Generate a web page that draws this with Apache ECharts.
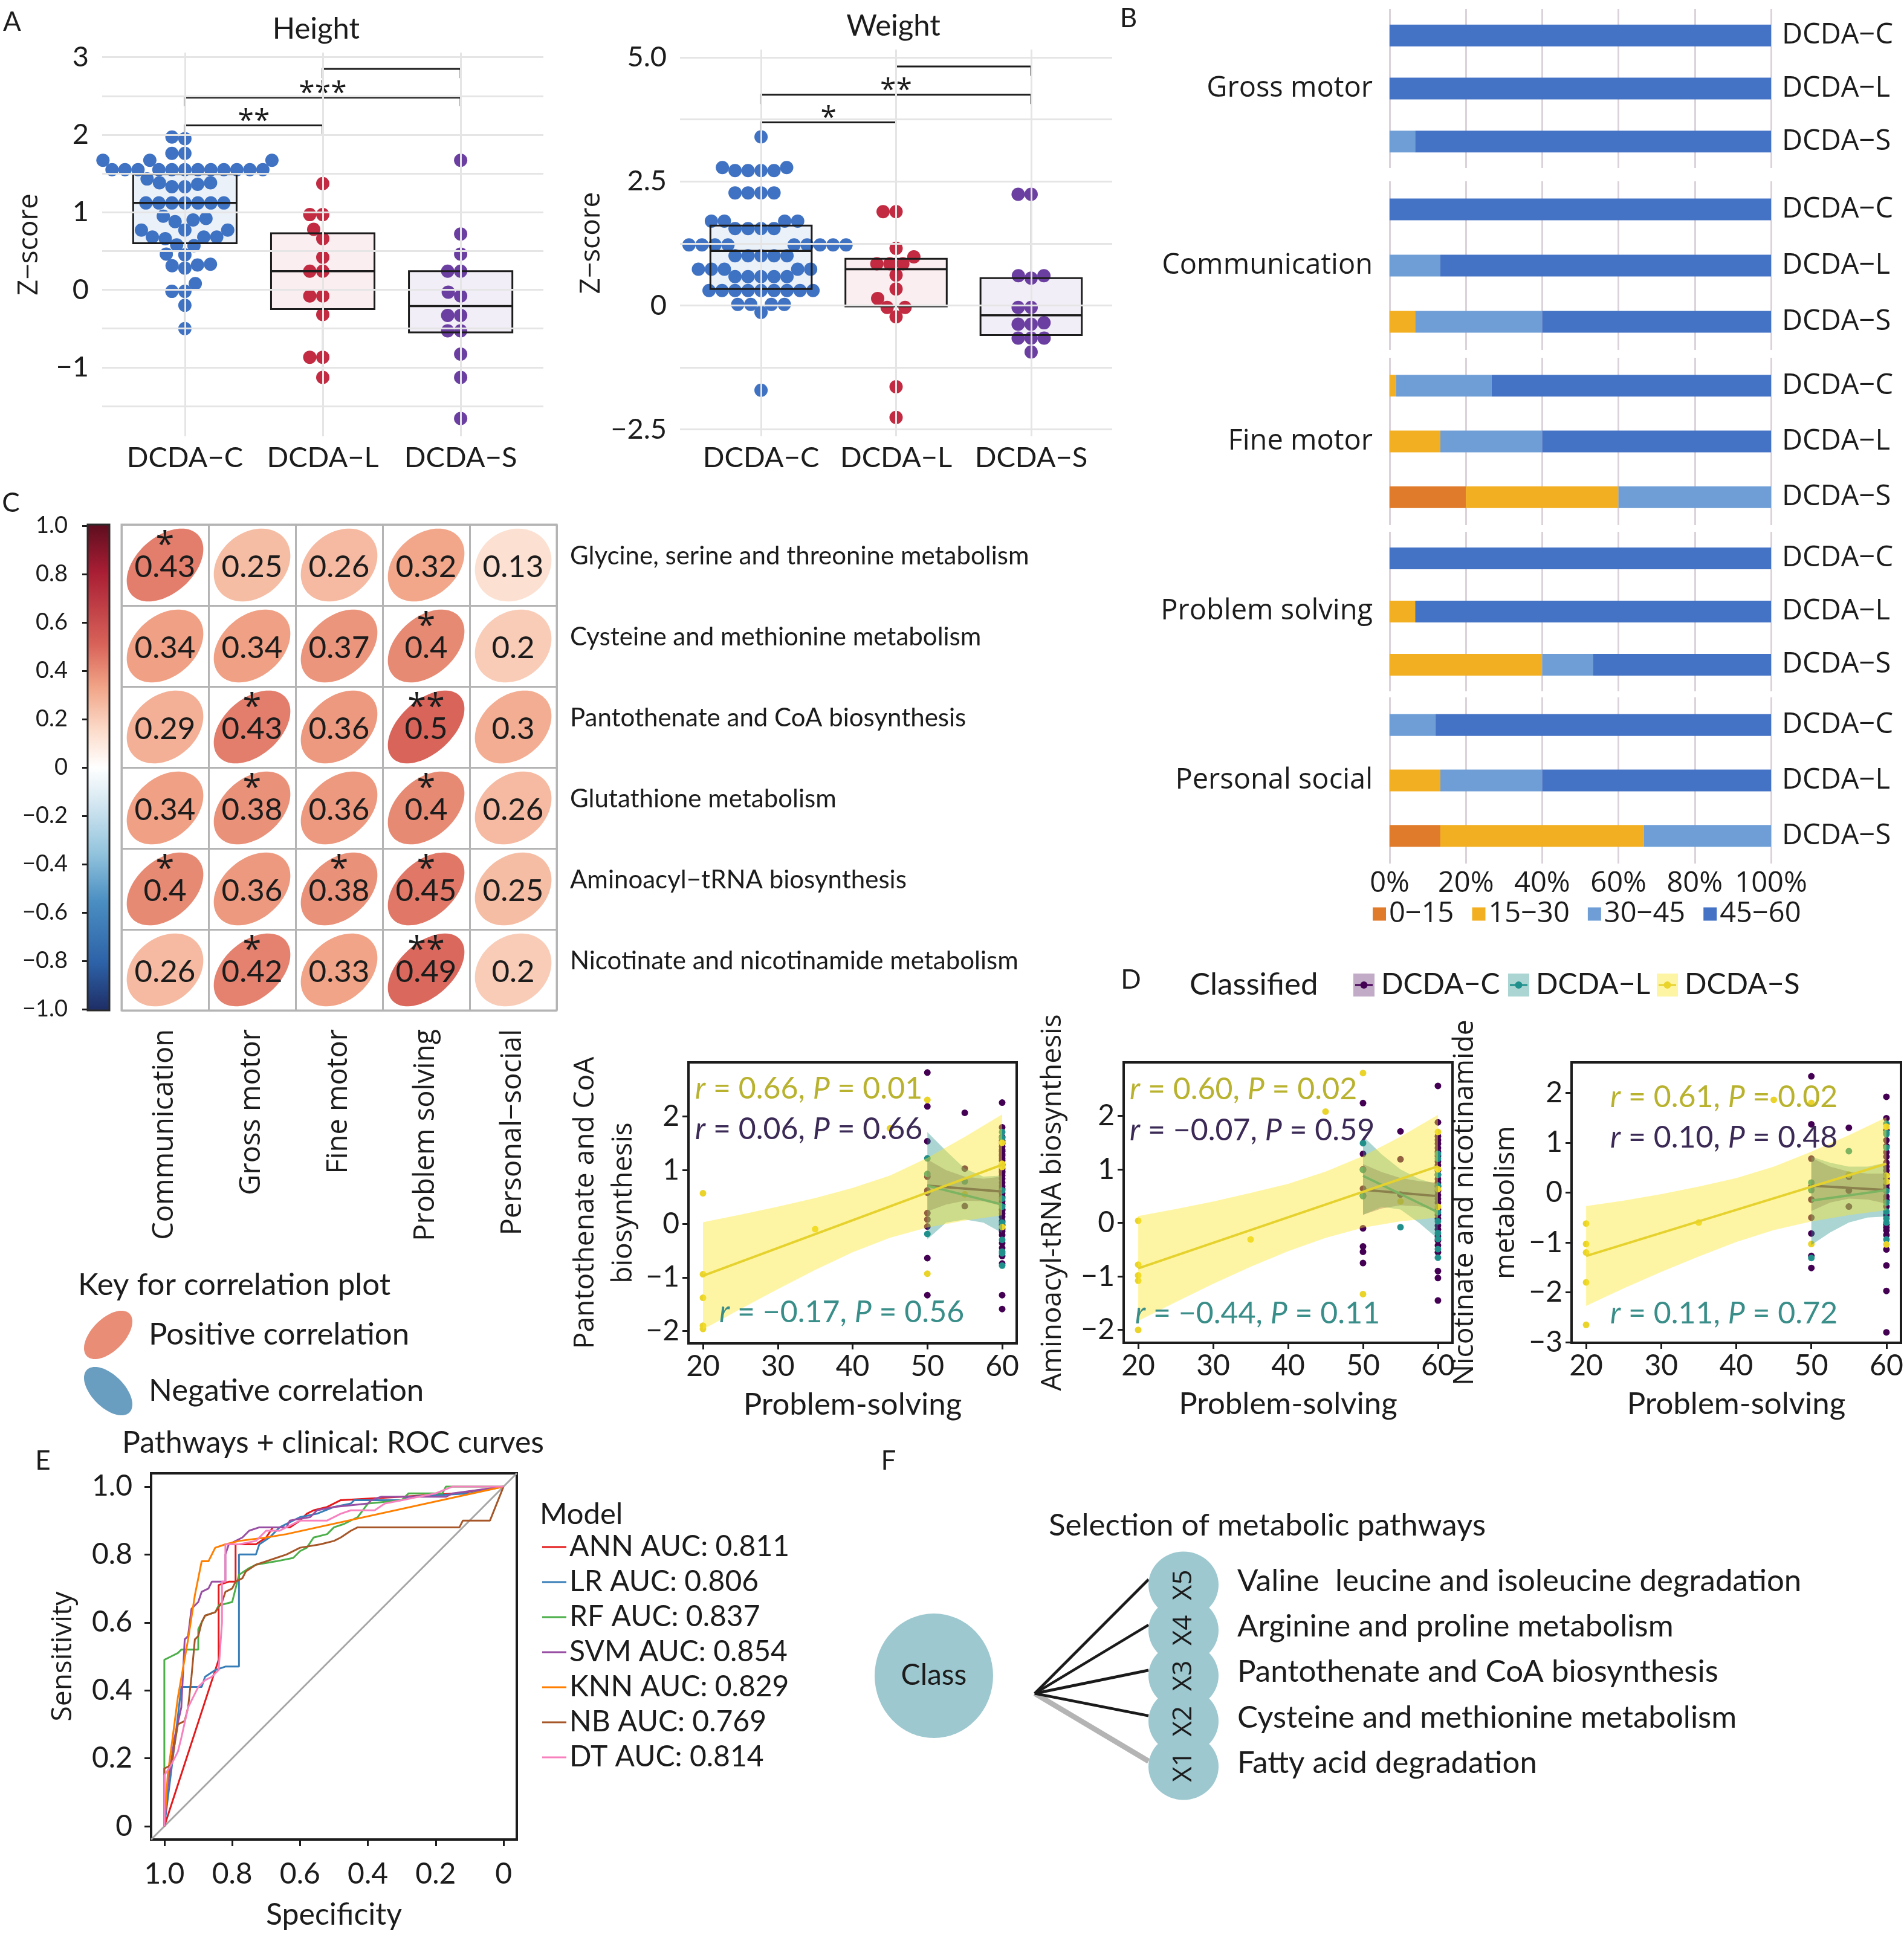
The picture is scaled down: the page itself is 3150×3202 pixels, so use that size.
<!DOCTYPE html>
<html>
<head>
<meta charset="utf-8">
<script src="https://cdn.jsdelivr.net/npm/echarts@6/dist/echarts.min.js"></script>
<style>
html,body{margin:0;padding:0;background:#ffffff;}
#chart{width:3150px;height:3202px;}
</style>
</head>
<body>
<div id="chart"></div>
<script>
// ======================= DATA =======================
const groups = ['DCDA−C', 'DCDA−L', 'DCDA−S'];

// ---- Panel A : Z-scores (beeswarm + box) ----
const heightC = [1.97,1.95,1.76,1.76,1.67,1.67,1.67,1.67,1.55,1.55,1.55,1.55,1.55,1.55,1.55,1.55,1.55,1.55,1.55,1.55,
  1.43,1.38,1.38,1.36,1.33,1.33,1.12,1.12,1.12,1.12,1.12,1.12,1.12,0.95,0.92,0.9,0.88,0.77,0.77,0.77,0.68,0.68,0.68,0.66,
  0.58,0.57,0.46,0.45,0.33,0.32,0.31,0.28,0.08,-0.02,-0.02,-0.2,-0.5];
const heightL = [1.37,0.97,0.97,0.78,0.66,0.42,0.24,0.24,-0.08,-0.08,-0.32,-0.87,-0.87,-1.13];
const heightS = [1.67,0.72,0.46,0.24,0.24,-0.03,-0.08,-0.33,-0.33,-0.53,-0.53,-0.83,-1.13,-1.66];
const heightBox = [[-0.5,0.6,1.12,1.49,1.95],[-1.13,-0.25,0.24,0.73,1.36],[-1.66,-0.55,-0.21,0.24,0.72]];
const heightSig = [[1,2,2.12,2.01,'**'],[1,3,2.48,2.37,'***'],[2,3,2.85,2.73,'']];
const heightTicks = [-1,0,1,2,3];
const heightTickLabels = ['−1','0','1','2','3'];
const heightGridVals = [-1.5,-1,-0.5,0,0.5,1,1.5,2,2.5,3];

const weightC = [3.4,2.78,2.78,2.72,2.72,2.72,2.72,2.27,2.27,2.27,2.27,1.7,1.7,1.7,1.7,1.55,1.55,1.55,1.55,
  1.22,1.22,1.22,1.22,1.22,1.22,1.22,1.22,1.22,1.22,1.0,1.0,1.0,1.0,1.0,0.73,0.73,0.73,0.73,0.73,
  0.58,0.58,0.58,0.58,0.58,0.3,0.3,0.3,0.3,0.3,0.3,0.3,0.3,0.3,0.02,0.02,0.02,0.02,-0.14,-1.71];
const weightL = [1.89,1.89,1.15,0.98,0.84,0.84,0.84,0.61,0.33,0.14,-0.04,-0.04,-0.23,-1.64,-2.26];
const weightS = [2.24,2.24,0.6,0.55,0.6,-0.04,-0.04,-0.35,-0.38,-0.38,-0.66,-0.66,-0.66,-0.94];
const weightBox = [[-0.14,0.33,1.1,1.61,3.4],[-0.23,-0.02,0.73,0.94,1.89],[-0.94,-0.6,-0.2,0.55,2.24]];
const weightSig = [[1,2,3.69,3.49,'*'],[1,3,4.25,4.06,'**'],[2,3,4.82,4.63,'']];
const weightTicks = [-2.5,0,2.5,5];
const weightTickLabels = ['−2.5','0','2.5','5.0'];
const weightGridVals = [-2.5,-1.25,0,1.25,2.5,3.75,5];

// ---- Panel B : % of children per score band ----
const domainsB = ['Gross motor','Communication','Fine motor','Problem solving','Personal social'];
const scoreBands = ['0−15','15−30','30−45','45−60'];
// rows = domain, cols = [C, L, S]
const pct0_15  = [[0,0,0],[0,0,0],[0,0,20],[0,0,0],[0,0,13.3]];
const pct15_30 = [[0,0,0],[0,0,6.7],[1.7,13.3,40],[0,6.7,40],[0,13.3,53.4]];
const pct30_45 = [[0,0,6.7],[0,13.3,33.3],[25,26.7,40],[0,0,13.3],[12,26.7,33.3]];
const pct45_60 = [[100,100,93.3],[100,86.7,60],[73.3,60,0],[100,93.3,46.7],[88,60,0]];

// ---- Panel C : correlation matrix ----
const pathways = ['Glycine, serine and threonine metabolism','Cysteine and methionine metabolism',
  'Pantothenate and CoA biosynthesis','Glutathione metabolism','Aminoacyl−tRNA biosynthesis',
  'Nicotinate and nicotinamide metabolism'];
const domainsC = ['Communication','Gross motor','Fine motor','Problem solving','Personal−social'];
const corr = [[0.43,0.25,0.26,0.32,0.13],[0.34,0.34,0.37,0.4,0.2],[0.29,0.43,0.36,0.5,0.3],
  [0.34,0.38,0.36,0.4,0.26],[0.4,0.36,0.38,0.45,0.25],[0.26,0.42,0.33,0.49,0.2]];
const corrSig = [['*','','','',''],['','','','*',''],['','*','','**',''],['','*','','*',''],['*','','*','*',''],['','*','','**','']];
const cbTicks = [-1,-0.8,-0.6,-0.4,-0.2,0,0.2,0.4,0.6,0.8,1];
const cbLabels = ['−1.0','−0.8','−0.6','−0.4','−0.2','0','0.2','0.4','0.6','0.8','1.0'];

// ---- Panel D : scatter + regression ----
const dXTicks = [20,30,40,50,60];
const d1C = [[50,2.82],[50,2.19],[50,1.54],[50,0.88],[50,0.62],[50,0.58],[50,0.2],[50,0.08],[50,-0.05],[50,-0.64],[50,-1.33],
  [55,2.07],[55,1.03],[55,0.33],[60,2.26],[60,1.8],[60,1.62],[60,1.55],[60,1.5],[60,1.44],[60,1.38],[60,1.35],[60,1.3],
  [60,1.27],[60,1.22],[60,1.18],[60,1.1],[60,1.02],[60,0.98],[60,0.95],[60,0.9],[60,0.84],[60,0.77],[60,0.7],[60,0.65],
  [60,0.57],[60,0.5],[60,0.42],[60,0.36],[60,0.27],[60,0.25],[60,0.19],[60,0.13],[60,0.05],[60,-0.02],[60,-0.1],[60,-0.14],
  [60,-0.21],[60,-0.36],[60,-0.45],[60,-0.6],[60,-0.74],[60,-1.33],[60,-1.59]];
const d1L = [[50,1.22],[50,0.93],[50,-0.19],[55,0.79],[60,1.71],[60,1.6],[60,0.62],[60,0.47],[60,0.32],[60,0.02],[60,-0.3],[60,-0.52],[60,-0.55],[60,-0.78]];
const d1S = [[20,0.57],[20,-0.94],[20,-1.38],[20,-1.9],[20,-1.96],[35,-0.1],[45,1.78],[50,2.31],[50,-0.93],[55,0.55],[60,1.51],[60,1.12],[60,1.06],[60,-0.06]];
const d1Lines = [[[50,0.71],[60,0.6]],[[50,0.71],[60,0.36]],[[20,-0.97],[60,1.1]]];
const d1Bands = [
  [[50,0.23,1.2],[52.5,0.36,1.0],[55,0.43,0.88],[57.5,0.42,0.84],[60,0.33,0.88]],
  [[50,-0.29,1.71],[52.5,0.02,1.36],[55,0.08,1.03],[57.5,0.02,0.88],[60,-0.17,0.9]],
  [[20,-1.97,0.03],[25,-1.59,0.17],[30,-1.22,0.32],[35,-0.86,0.48],[40,-0.53,0.67],[45,-0.26,0.9],[50,-0.07,1.23],[55,0.06,1.62],[60,0.16,2.04]]];

const d2C = [[50,2.24],[50,1.29],[50,1.0],[50,0.64],[50,0.51],[50,-0.1],[50,-0.44],[50,-0.54],[50,-0.75],[55,1.71],[55,1.19],[55,0.53],
  [60,2.56],[60,1.88],[60,1.62],[60,1.55],[60,1.48],[60,1.4],[60,1.33],[60,1.25],[60,1.15],[60,1.08],[60,0.98],[60,0.9],[60,0.82],
  [60,0.75],[60,0.68],[60,0.6],[60,0.52],[60,0.45],[60,0.38],[60,0.25],[60,0.15],[60,0.08],[60,-0.05],[60,-0.12],[60,-0.25],
  [60,-0.33],[60,-0.42],[60,-0.55],[60,-0.9],[60,-1.03],[60,-1.45]];
const d2L = [[50,1.49],[50,0.99],[50,0.5],[55,-0.08],[60,1.29],[60,1.2],[60,0.9],[60,0.7],[60,0.2],[60,0.03],[60,-0.19],[60,-0.3],[60,-0.49],[60,-0.65]];
const d2S = [[20,0.04],[20,-0.78],[20,-0.98],[20,-1.08],[20,-2.0],[35,-0.31],[45,2.08],[50,2.8],[50,-1.33],[55,0.4],[60,1.7],[60,1.0],[60,0.63],[60,0.3]];
const d2Lines = [[[50,0.62],[60,0.5]],[[50,0.88],[60,0.2]],[[20,-0.85],[60,1.06]]];
const d2Bands = [
  [[50,0.15,1.1],[52.5,0.27,0.95],[55,0.33,0.84],[57.5,0.31,0.78],[60,0.25,0.75]],
  [[50,0.15,1.62],[52.5,0.3,1.28],[55,0.25,1.0],[57.5,0.0,0.82],[60,-0.3,0.72]],
  [[20,-1.83,0.13],[25,-1.48,0.26],[30,-1.14,0.4],[35,-0.82,0.56],[40,-0.53,0.73],[45,-0.28,0.96],[50,-0.09,1.25],[55,0.03,1.61],[60,0.1,2.02]]];

const d3C = [[50,2.33],[50,1.37],[50,0.68],[50,0.12],[50,-0.14],[50,-0.5],[50,-0.82],[50,-1.27],[50,-1.51],[55,1.3],[55,0.32],[55,0.04],[55,-0.28],
  [60,1.92],[60,1.49],[60,1.25],[60,1.05],[60,0.93],[60,0.81],[60,0.72],[60,0.6],[60,0.52],[60,0.44],[60,0.36],[60,0.28],[60,0.15],
  [60,0.08],[60,-0.08],[60,-0.15],[60,-0.28],[60,-0.45],[60,-0.64],[60,-0.7],[60,-0.76],[60,-0.85],[60,-1.14],[60,-1.46],[60,-1.97],[60,-2.8]];
const d3L = [[50,0.2],[50,0.05],[50,-1.31],[55,0.83],[60,1.38],[60,1.2],[60,1.17],[60,0.9],[60,0.03],[60,-0.2],[60,-0.38],[60,-0.52],[60,-0.6],[60,-0.94]];
const d3S = [[20,-0.62],[20,-1.03],[20,-1.2],[20,-1.8],[20,-2.65],[35,-0.6],[45,1.86],[50,1.8],[50,-1.03],[55,0.36],[60,1.32],[60,0.34],[60,0.22],[60,-1.04]];
const d3Lines = [[[50,0.14],[60,0.05]],[[50,-0.16],[60,0.05]],[[20,-1.27],[60,0.58]]];
const d3Bands = [
  [[50,-0.37,0.7],[52.5,-0.2,0.52],[55,-0.12,0.42],[57.5,-0.14,0.38],[60,-0.22,0.38]],
  [[50,-1.05,0.72],[52.5,-0.8,0.6],[55,-0.6,0.52],[57.5,-0.5,0.52],[60,-0.48,0.6]],
  [[20,-2.27,-0.27],[25,-1.92,-0.16],[30,-1.59,-0.03],[35,-1.28,0.12],[40,-0.99,0.29],[45,-0.75,0.52],[50,-0.58,0.82],[55,-0.45,1.15],[60,-0.35,1.51]]];
// r and P per plot, order [S, C, L]
const statR = [[0.66,0.06,-0.17],[0.60,-0.07,-0.44],[0.61,0.10,0.11]];
const statP = [[0.01,0.66,0.56],[0.02,0.59,0.11],[0.02,0.48,0.72]];

// ---- Panel E : ROC curves [specificity, sensitivity] ----
const rocModels = ['ANN','LR','RF','SVM','KNN','NB','DT'];
const rocAUC = [0.811,0.806,0.837,0.854,0.829,0.769,0.814];
const rocANN = [[1,0],[0.84,0.49],[0.84,0.71],[0.81,0.72],[0.79,0.72],[0.79,0.83],[0.73,0.83],[0.7,0.85],[0.68,0.88],[0.63,0.88],[0.6,0.9],[0.58,0.92],[0.56,0.93],[0.52,0.94],[0.48,0.96],[0.3,0.97],[0.14,0.98],[0,1]];
const rocLR = [[1,0],[0.97,0.24],[0.95,0.41],[0.89,0.41],[0.88,0.44],[0.85,0.46],[0.82,0.47],[0.78,0.47],[0.78,0.8],[0.73,0.8],[0.72,0.83],[0.69,0.85],[0.66,0.88],[0.62,0.9],[0.6,0.91],[0.55,0.92],[0.5,0.94],[0.45,0.95],[0.44,0.96],[0.3,0.96],[0.28,0.97],[0.1,0.98],[0,1]];
const rocRF = [[1,0],[1,0.49],[0.98,0.5],[0.96,0.51],[0.95,0.52],[0.9,0.52],[0.9,0.58],[0.88,0.62],[0.85,0.63],[0.84,0.65],[0.8,0.66],[0.79,0.7],[0.78,0.74],[0.75,0.76],[0.73,0.77],[0.67,0.78],[0.62,0.79],[0.6,0.81],[0.58,0.82],[0.56,0.85],[0.52,0.86],[0.5,0.88],[0.47,0.89],[0.43,0.91],[0.4,0.95],[0.3,0.96],[0.28,0.98],[0.18,0.98],[0.17,1.0],[0,1]];
const rocSVM = [[1,0],[0.99,0.12],[0.97,0.26],[0.95,0.35],[0.94,0.55],[0.93,0.56],[0.92,0.64],[0.9,0.66],[0.89,0.69],[0.87,0.7],[0.86,0.72],[0.82,0.72],[0.82,0.8],[0.81,0.83],[0.77,0.85],[0.75,0.87],[0.72,0.88],[0.64,0.88],[0.63,0.9],[0.57,0.91],[0.55,0.93],[0.5,0.94],[0.4,0.95],[0.39,0.96],[0.36,0.97],[0.17,0.97],[0.15,0.98],[0,1]];
const rocKNN = [[1,0],[0.99,0.15],[0.96,0.38],[0.93,0.55],[0.91,0.68],[0.9,0.73],[0.89,0.78],[0.87,0.78],[0.85,0.82],[0.82,0.83],[0.78,0.84],[0.7,0.85],[0.64,0.86],[0,1]];
const rocNB = [[1,0],[1,0.17],[0.98,0.18],[0.96,0.3],[0.94,0.31],[0.93,0.35],[0.92,0.44],[0.91,0.55],[0.9,0.56],[0.89,0.6],[0.88,0.62],[0.85,0.63],[0.83,0.66],[0.82,0.69],[0.8,0.7],[0.79,0.72],[0.77,0.73],[0.76,0.75],[0.73,0.77],[0.7,0.78],[0.67,0.79],[0.64,0.8],[0.6,0.82],[0.54,0.83],[0.5,0.84],[0.48,0.85],[0.45,0.87],[0.43,0.88],[0.13,0.88],[0.12,0.9],[0.04,0.9],[0,1]];
const rocDT = [[1,0],[1,0.15],[0.98,0.18],[0.96,0.22],[0.95,0.26],[0.93,0.35],[0.9,0.41],[0.88,0.43],[0.86,0.44],[0.84,0.46],[0.83,0.6],[0.83,0.72],[0.82,0.72],[0.82,0.83],[0.78,0.83],[0.73,0.84],[0.7,0.87],[0.66,0.87],[0.62,0.89],[0.6,0.9],[0.52,0.9],[0.48,0.92],[0.45,0.93],[0.38,0.93],[0.35,0.95],[0.3,0.96],[0.25,0.97],[0.2,0.98],[0.15,1.0],[0,1]];
const rocTicks = [0,0.2,0.4,0.6,0.8,1];
const rocTickLabels = ['0','0.2','0.4','0.6','0.8','1.0'];

// ---- Panel F : selected pathways ----
const featureIds = ['X1','X2','X3','X4','X5'];
const featureNames = ['Fatty acid degradation','Cysteine and methionine metabolism','Pantothenate and CoA biosynthesis',
  'Arginine and proline metabolism','Valine  leucine and isoleucine degradation'];
const featureWeight = [-1.9,1,1.05,0.95,1];

// ======================= STYLE / LAYOUT =======================
const INK = '#1c1c1c';
const FC = 'Lato';
const FS = 'Open Sans';
const colA = ['#3F72C2','#C22B41','#6B3FA1'];
const fillA = ['rgba(63,114,194,0.10)','rgba(194,43,65,0.08)','rgba(107,63,161,0.09)'];
const colB = ['#E07B2B','#F2AF22','#6F9ED6','#4472C4'];
const dCol = ['#440154','#21908C','#EAD42A'];
const dLine = ['#440154','#21908C','#E6D22E'];
const dBand = ['rgba(68,1,84,0.33)','rgba(33,144,140,0.38)','rgba(253,231,37,0.42)'];
const dText = ['#3B2A55','#3A8E89','#B8B22E'];
const rocColors = ['#E41A1C','#377EB8','#4DAF4A','#984EA3','#FF7F00','#A65628','#F781BF'];
const corrStops = [[-1,'#1E2C64'],[-0.8,'#2D62A8'],[-0.55,'#4A8EC2'],[-0.35,'#93C4DD'],[-0.15,'#D3E6F1'],[0,'#FFFFFF'],
  [0.15,'#FCDCCB'],[0.33,'#F1A487'],[0.5,'#D9645A'],[0.8,'#A91E34'],[1,'#5C0D1F']];

function hex2rgb(h){ return [parseInt(h.slice(1,3),16),parseInt(h.slice(3,5),16),parseInt(h.slice(5,7),16)]; }
function colorAt(v){
  for (let i=1;i<corrStops.length;i++){
    if (v <= corrStops[i][0]){
      const a=corrStops[i-1], b=corrStops[i]; const t=(v-a[0])/(b[0]-a[0]);
      const ca=hex2rgb(a[1]), cb=hex2rgb(b[1]);
      return 'rgb('+ca.map((c,j)=>Math.round(c+(cb[j]-c)*t)).join(',')+')';
    }
  }
  return corrStops[corrStops.length-1][1];
}
function ellipsePts(cx, cy, hx, hy, r){
  const a=Math.sqrt(1+Math.abs(r)), b=Math.sqrt(1-Math.abs(r)), s=r>=0?1:-1, k=Math.SQRT1_2, pts=[];
  for (let i=0;i<90;i++){ const t=i/90*2*Math.PI; const u=a*Math.cos(t), v=b*Math.sin(t);
    pts.push([cx+(u-v)*k*hx, cy-s*(u+v)*k*hy]); }
  return pts;
}
function lab(ticks, labels){ return function(v){ const i=ticks.findIndex(t=>Math.abs(t-v)<1e-6); return i<0?'':labels[i]; }; }
function T(text, x, y, size, o){
  o = o || {};
  const st = {text:text, fontSize:size, fontFamily:o.font||FC, fill:o.color||INK,
    align:o.align||'left', verticalAlign:o.va||'middle', textAlign:o.align||'left', textVerticalAlign:o.va||'middle'};
  if (o.rich) st.rich = o.rich;
  return {type:'text', x:x, y:y, rotation:o.rot||0, silent:true, z:50, style:st};
}

const grids=[], xAxes=[], yAxes=[], series=[], G=[];
function addGrid(r){ grids.push(Object.assign({outerBoundsMode:'none', containLabel:false}, r)); return grids.length-1; }
const noLine = {show:false, onZero:false};

// ======================= PANEL A =======================
function boxRender(params, api){
  const x=api.value(0);
  const pMin=api.coord([x,api.value(1)]), pQ1=api.coord([x,api.value(2)]), pMd=api.coord([x,api.value(3)]),
        pQ3=api.coord([x,api.value(4)]), pMax=api.coord([x,api.value(5)]);
  const w=api.size([0.75,0])[0];
  const L=(a,b,lw)=>({type:'line', shape:{x1:a[0],y1:a[1],x2:b[0],y2:b[1]}, style:{stroke:INK, lineWidth:lw}});
  return {type:'group', children:[
    L(pMax,pQ3,2.2), L(pQ1,pMin,2.2),
    {type:'rect', shape:{x:pQ3[0]-w/2, y:pQ3[1], width:w, height:pQ1[1]-pQ3[1]}, style:{fill:fillA[params.dataIndex], stroke:INK, lineWidth:3}},
    {type:'line', shape:{x1:pMd[0]-w/2, y1:pMd[1], x2:pMd[0]+w/2, y2:pMd[1]}, style:{stroke:INK, lineWidth:3.5}}
  ]};
}
function sigRenderer(sigArr){
  return function(params, api){
    const s=sigArr[params.dataIndex];
    const p1=api.coord([s[0],s[3]]), p2=api.coord([s[0],s[2]]), p3=api.coord([s[1],s[2]]), p4=api.coord([s[1],s[3]]);
    return {type:'group', children:[
      {type:'polyline', shape:{points:[p1,p2,p3,p4]}, style:{stroke:INK, lineWidth:3, fill:null}},
      {type:'text', x:(p2[0]+p3[0])/2, y:p2[1]-6, style:{text:s[4], fontSize:48, fontFamily:FS, fill:INK,
        align:'center', verticalAlign:'middle', textAlign:'center', textVerticalAlign:'middle'}}
    ]};
  };
}
const panelsA = [
  {title:'Height', vals:[heightC,heightL,heightS], box:heightBox, sig:heightSig, ticks:heightTicks, labels:heightTickLabels,
   lines:heightGridVals, min:-1.89, max:3.06, rect:{left:169,top:87,width:730,height:635}, nameGap:97, tx:523, ty:48},
  {title:'Weight', vals:[weightC,weightL,weightS], box:weightBox, sig:weightSig, ticks:weightTicks, labels:weightTickLabels,
   lines:weightGridVals, min:-2.64, max:5.16, rect:{left:1125,top:82,width:715,height:640}, nameGap:123, tx:1478, ty:43}
];
panelsA.forEach((p,k)=>{
  const gi=addGrid(p.rect); p.gi=gi;
  xAxes.push({gridIndex:gi, type:'value', min:0.4, max:3.6, axisLine:noLine, axisTick:{show:false}, splitLine:{show:false},
    axisLabel:{customValues:[1,2,3], formatter:v=>groups[Math.round(v)-1]||'', fontSize:47, fontFamily:FC, color:INK, margin:12}});
  const xi=xAxes.length-1;
  yAxes.push({gridIndex:gi, type:'value', min:p.min, max:p.max, axisLine:noLine, axisTick:{show:false}, splitLine:{show:false},
    axisLabel:{customValues:p.ticks, formatter:lab(p.ticks,p.labels), fontSize:47, fontFamily:FC, color:INK, margin:22},
    name:'Z−score', nameLocation:'middle', nameGap:p.nameGap, nameTextStyle:{fontSize:46, fontFamily:FS, color:INK, lineHeight:46}});
  const yi=yAxes.length-1;
  series.push({type:'line', xAxisIndex:xi, yAxisIndex:yi, data:[[1,p.min]], symbol:'none', lineStyle:{width:0}, z:1, silent:true,
    markLine:{silent:true, symbol:['none','none'], label:{show:false}, lineStyle:{color:'#E5E5E5', width:3, type:'solid'},
      data:p.lines.map(v=>({yAxis:v})).concat([1,2,3].map(v=>({xAxis:v})))}});
  p.vals.forEach((vals,g)=>series.push({id:'sw'+k+'_'+g, name:groups[g], type:'scatter', xAxisIndex:xi, yAxisIndex:yi, data:[],
    symbolSize:22, itemStyle:{color:colA[g], opacity:1}, z:2, silent:true}));
  series.push({type:'custom', xAxisIndex:xi, yAxisIndex:yi, z:3, silent:true, data:p.box.map((b,i)=>[i+1].concat(b)), renderItem:boxRender});
  series.push({type:'custom', xAxisIndex:xi, yAxisIndex:yi, z:4, silent:true, data:p.sig.map(s=>[s[0],s[1],s[2],s[3]]), renderItem:sigRenderer(p.sig)});
  G.push(T(p.title, p.tx, p.ty, 49, {align:'center'}));
});

// ======================= PANEL B =======================
const bRows = [[15,263],[300,279],[592,277],[880,264],[1154,275]];
const pctBands = [pct0_15, pct15_30, pct30_45, pct45_60];
domainsB.forEach((d,g)=>{
  const gi=addGrid({left:2299, width:631, top:bRows[g][0], height:bRows[g][1]});
  xAxes.push({gridIndex:gi, type:'value', min:0, max:100, interval:20, axisLine:noLine, axisTick:{show:false},
    splitLine:{show:true, lineStyle:{color:'#DCD3DA', width:3}},
    axisLabel:{show:g===domainsB.length-1, formatter:'{value}%', fontSize:47, fontFamily:FS, color:INK, margin:10}});
  const xi=xAxes.length-1;
  yAxes.push({gridIndex:gi, type:'category', position:'left', data:[d], axisLine:noLine, axisTick:{show:false},
    axisLabel:{interval:0, fontSize:47, fontFamily:FS, color:INK, margin:28}});
  yAxes.push({gridIndex:gi, type:'category', position:'right', inverse:true, data:groups, axisLine:noLine, axisTick:{show:false},
    axisLabel:{interval:0, fontSize:47, fontFamily:FS, color:INK, margin:18}});
  const yi=yAxes.length-1;
  pctBands.forEach((arr,b)=>series.push({type:'bar', name:scoreBands[b], stack:'B'+g, xAxisIndex:xi, yAxisIndex:yi,
    barWidth:36, data:arr[g], itemStyle:{color:colB[b]}, z:2, silent:true}));
});

// ======================= PANEL C =======================
const cbGi = addGrid({left:145, top:870, width:36, height:800});
xAxes.push({gridIndex:cbGi, type:'value', show:false, min:0, max:1});
yAxes.push({gridIndex:cbGi, type:'value', min:-1, max:1, interval:0.2, position:'left', axisLine:noLine,
  axisTick:{show:true, length:9, lineStyle:{color:INK, width:3}}, splitLine:{show:false},
  axisLabel:{formatter:lab(cbTicks,cbLabels), fontSize:38, fontFamily:FC, color:INK, margin:33}});
G.push({type:'rect', shape:{x:145, y:868, width:36, height:804}, z:5, silent:true,
  style:{fill:{type:'linear', x:0, y:0, x2:0, y2:1, colorStops:corrStops.slice().reverse().map(s=>({offset:(1-s[0])/2, color:s[1]}))},
    stroke:'#2a2a2a', lineWidth:3}});

const mGi = addGrid({left:201, top:868, width:720, height:804, show:true, borderColor:'#B4B4B4', borderWidth:3, backgroundColor:'transparent'});
xAxes.push({gridIndex:mGi, type:'category', data:domainsC, position:'bottom', axisLine:noLine, axisTick:{show:false},
  splitLine:{show:true, interval:0, lineStyle:{color:'#B4B4B4', width:3}},
  axisLabel:{interval:0, rotate:90, fontSize:47, fontFamily:FS, color:INK, margin:31}});
const mXi=xAxes.length-1;
yAxes.push({gridIndex:mGi, type:'category', data:pathways, inverse:true, position:'right', axisLine:noLine, axisTick:{show:false},
  splitLine:{show:true, interval:0, lineStyle:{color:'#B4B4B4', width:3}},
  axisLabel:{interval:0, fontSize:42, fontFamily:FC, color:INK, margin:22, verticalAlign:'bottom', lineHeight:30}});
const mYi=yAxes.length-1;
const corrData=[];
corr.forEach((row,r)=>row.forEach((v,c)=>corrData.push([c,r,v])));
series.push({type:'custom', xAxisIndex:mXi, yAxisIndex:mYi, z:3, silent:true, data:corrData,
  renderItem:function(params, api){
    const c=api.value(0), r=api.value(1), v=api.value(2);
    const p=api.coord([c,r]); const sz=api.size([1,1]);
    const st=corrSig[r][c];
    const ch=[{type:'polygon', shape:{points:ellipsePts(p[0],p[1],sz[0]*0.44,sz[1]*0.45,v)}, style:{fill:colorAt(v)}},
      {type:'text', x:p[0], y:p[1]+4, style:{text:String(v), fontSize:51, fontFamily:FC, fill:INK, align:'center', verticalAlign:'middle', textAlign:'center', textVerticalAlign:'middle'}}];
    if (st) ch.push({type:'text', x:p[0], y:p[1]-31, style:{text:st, fontSize:56, fontFamily:FS, fill:INK, align:'center', verticalAlign:'middle', textAlign:'center', textVerticalAlign:'middle'}});
    return {type:'group', children:ch};
  }});
// key
G.push(T('Key for correlation plot', 129, 2127, 51));
G.push({type:'polygon', shape:{points:ellipsePts(179,2209,40,40,0.55)}, style:{fill:'#E98D77'}, silent:true, z:50});
G.push({type:'polygon', shape:{points:ellipsePts(179,2302,40,40,-0.55)}, style:{fill:'#6A9EC0'}, silent:true, z:50});
G.push(T('Positive correlation', 246, 2209, 51));
G.push(T('Negative correlation', 246, 2302, 51));

// ======================= PANEL D =======================
function bandRenderer(band){
  return function(params, api){
    const up=band.map(b=>api.coord([b[0],b[2]]));
    const lo=band.map(b=>api.coord([b[0],b[1]])).reverse();
    return {type:'polygon', shape:{points:up.concat(lo)}, style:{fill:api.visual('color')}};
  };
}
const panelsD = [
  {rect:{left:1139, top:1758, width:543, height:465}, min:-2.23, max:3.01, yTicks:[-2,-1,0,1,2], yLabels:['−2','−1','0','1','2'],
   name:'Pantothenate and CoA\nbiosynthesis', nameGap:76, lh:63, pts:[d1C,d1L,d1S], lines:d1Lines, bands:d1Bands,
   txt:[[1150,1802],[1150,1869],[1190,2172]]},
  {rect:{left:1859, top:1758, width:544, height:464}, min:-2.24, max:3.0, yTicks:[-2,-1,0,1,2], yLabels:['−2','−1','0','1','2'],
   name:'Aminoacyl-tRNA biosynthesis', nameGap:94, lh:46, pts:[d2C,d2L,d2S], lines:d2Lines, bands:d2Bands,
   txt:[[1869,1803],[1869,1871],[1878,2174]]},
  {rect:{left:2600, top:1758, width:545, height:464}, min:-3.01, max:2.61, yTicks:[-3,-2,-1,0,1,2], yLabels:['−3','−2','−1','0','1','2'],
   name:'Nicotinate and nicotinamide\nmetabolism', nameGap:63, lh:68, pts:[d3C,d3L,d3S], lines:d3Lines, bands:d3Bands,
   txt:[[2664,1816],[2664,1883],[2664,2174]]}
];
function fmt2(v){ return (v<0?'−':'')+Math.abs(v).toFixed(2); }
panelsD.forEach((p,k)=>{
  const gi=addGrid(Object.assign({show:true, borderColor:INK, borderWidth:4, backgroundColor:'transparent'}, p.rect));
  xAxes.push({gridIndex:gi, type:'value', min:18.06, max:61.94, axisLine:noLine, splitLine:{show:false},
    axisTick:{show:true, customValues:dXTicks, length:10, lineStyle:{color:INK, width:3}},
    axisLabel:{customValues:dXTicks, formatter:v=>String(Math.round(v)), fontSize:48, fontFamily:FC, color:INK, margin:15},
    name:'Problem-solving', nameLocation:'middle', nameGap:78, nameTextStyle:{fontSize:51, fontFamily:FC, color:INK, lineHeight:48}});
  const xi=xAxes.length-1;
  yAxes.push({gridIndex:gi, type:'value', min:p.min, max:p.max, axisLine:noLine, splitLine:{show:false},
    axisTick:{show:true, customValues:p.yTicks, length:10, lineStyle:{color:INK, width:3}},
    axisLabel:{customValues:p.yTicks, formatter:lab(p.yTicks,p.yLabels), fontSize:48, fontFamily:FC, color:INK, margin:15},
    name:p.name, nameLocation:'middle', nameGap:p.nameGap, nameTextStyle:{fontSize:46, fontFamily:FS, color:INK, lineHeight:p.lh}});
  const yi=yAxes.length-1;
  p.pts.forEach((pts,g)=>series.push({type:'scatter', name:groups[g], xAxisIndex:xi, yAxisIndex:yi, data:pts, symbolSize:11,
    itemStyle:{color:dCol[g], opacity:1}, z:2, silent:true}));
  [0,1,2].forEach(g=>{
    series.push({type:'custom', xAxisIndex:xi, yAxisIndex:yi, z:3+2*g, silent:true, data:[[p.bands[g][0][0], p.bands[g][0][1]]],
      itemStyle:{color:dBand[g]}, renderItem:bandRenderer(p.bands[g])});
    series.push({type:'line', xAxisIndex:xi, yAxisIndex:yi, z:4+2*g, silent:true, data:p.lines[g], symbol:'none',
      lineStyle:{color:dLine[g], width:4}});
  });
  // stats annotations, order S, C, L
  const tc=[dText[2], dText[0], dText[1]];
  [0,1,2].forEach(j=>{
    const rich={i:{fontStyle:'italic', fontSize:50, fontFamily:FC, fill:tc[j], color:tc[j]}};
    G.push(T('{i|r} = '+fmt2(statR[k][j])+', {i|P} = '+statP[k][j].toFixed(2), p.txt[j][0], p.txt[j][1], 50, {color:tc[j], rich:rich}));
  });
});
// legend D
G.push(T('Classified', 1968, 1630, 51));
const legX=[2239,2495,2741];
groups.forEach((g,i)=>{
  G.push({type:'rect', shape:{x:legX[i], y:1611, width:35, height:38}, style:{fill:dBand[i]}, silent:true, z:50});
  G.push({type:'line', shape:{x1:legX[i]+3, y1:1630, x2:legX[i]+32, y2:1630}, style:{stroke:dLine[i], lineWidth:3}, silent:true, z:51});
  G.push({type:'circle', shape:{cx:legX[i]+17.5, cy:1630, r:6}, style:{fill:dCol[i]}, silent:true, z:52});
  G.push(T(g, legX[i]+46, 1630, 48));
});

// ======================= PANEL E =======================
const eGi=addGrid({left:250, top:2438, width:605, height:606, show:true, borderColor:INK, borderWidth:4, backgroundColor:'transparent'});
const eMin=-0.039, eMax=1.039;
xAxes.push({gridIndex:eGi, type:'value', inverse:true, min:eMin, max:eMax, axisLine:noLine, splitLine:{show:false},
  axisTick:{show:true, customValues:rocTicks, length:11, lineStyle:{color:INK, width:3}},
  axisLabel:{customValues:rocTicks, formatter:lab(rocTicks,rocTickLabels), fontSize:48, fontFamily:FC, color:INK, margin:34},
  name:'Specificity', nameLocation:'middle', nameGap:102, nameTextStyle:{fontSize:50, fontFamily:FC, color:INK, lineHeight:46}});
const eXi=xAxes.length-1;
yAxes.push({gridIndex:eGi, type:'value', min:eMin, max:eMax, axisLine:noLine, splitLine:{show:false},
  axisTick:{show:true, customValues:rocTicks, length:11, lineStyle:{color:INK, width:3}},
  axisLabel:{customValues:rocTicks, formatter:lab(rocTicks,rocTickLabels), fontSize:48, fontFamily:FC, color:INK, margin:31},
  name:'Sensitivity', nameLocation:'middle', nameGap:122, nameTextStyle:{fontSize:46, fontFamily:FS, color:INK, lineHeight:46}});
const eYi=yAxes.length-1;
series.push({type:'line', xAxisIndex:eXi, yAxisIndex:eYi, data:[[eMax,eMin],[eMin,eMax]], symbol:'none',
  lineStyle:{color:'#A6A6A6', width:3}, z:2, silent:true});
const rocCurves=[rocANN,rocLR,rocRF,rocSVM,rocKNN,rocNB,rocDT];
const rocNames=rocModels.map((m,i)=>m+' AUC: '+rocAUC[i].toFixed(3));
rocCurves.forEach((c,i)=>series.push({type:'line', name:rocNames[i], xAxisIndex:eXi, yAxisIndex:eYi, data:c, symbol:'none',
  lineStyle:{color:rocColors[i], width:3}, itemStyle:{color:rocColors[i]}, z:3, silent:true}));
G.push(T('Pathways + clinical: ROC curves', 551, 2388, 50, {align:'center'}));
G.push(T('Model', 893, 2506, 49));

// ======================= PANEL F =======================
const fGi=addGrid({left:1545, top:2585, width:413, height:376});
xAxes.push({gridIndex:fGi, type:'value', min:0, max:1, show:false});
yAxes.push({gridIndex:fGi, type:'value', min:0.5, max:featureIds.length+0.5, show:false});
const fXi=xAxes.length-1, fYi=yAxes.length-1;
const hubY=(featureIds.length+1)/2;
series.push({type:'lines', coordinateSystem:'cartesian2d', xAxisIndex:fXi, yAxisIndex:fYi, z:1, silent:true,
  data:featureIds.map((id,i)=>({coords:[[0.404,hubY-0.39],[0.86,i+1.12]],
    lineStyle:{width:4.6*Math.abs(featureWeight[i]), color:featureWeight[i]>=0?'#1a1a1a':'#B4B4B4', opacity:1, curveness:0}}))});
series.push({type:'scatter', xAxisIndex:fXi, yAxisIndex:fYi, z:3, silent:true, data:[[0,hubY]], symbolSize:[196,206],
  itemStyle:{color:'#9DC8D0', opacity:1}, label:{show:true, position:'inside', formatter:'Class', fontSize:48, fontFamily:FC, color:INK}});
series.push({type:'scatter', xAxisIndex:fXi, yAxisIndex:fYi, z:3, silent:true, data:featureIds.map((id,i)=>[1,i+1]),
  symbolSize:[116,110], itemStyle:{color:'#9DC8D0', opacity:1},
  label:{show:true, position:'inside', rotate:90, formatter:p=>featureIds[p.dataIndex], fontSize:44, fontFamily:FS, color:INK}});
series.push({type:'scatter', xAxisIndex:fXi, yAxisIndex:fYi, z:4, silent:true, data:featureIds.map((id,i)=>[1,i+1]),
  symbolSize:2, itemStyle:{color:'rgba(255,255,255,0)', opacity:1},
  label:{show:true, position:'right', distance:88, offset:[0,-6], formatter:p=>featureNames[p.dataIndex], fontSize:51, fontFamily:FC, color:INK, opacity:1}});
G.push(T('Selection of metabolic pathways', 1735, 2525, 51));

// ======================= PANEL LETTERS =======================
[['A',20,37],['B',1867,31],['C',18,833],['D',1871,1622],['E',71,2418],['F',1470,2418]].forEach(l=>G.push(T(l[0],l[1],l[2],44,{align:'center'})));

// ======================= OPTION =======================
const option = {
  animation:false, backgroundColor:'#ffffff',
  grid:grids, xAxis:xAxes, yAxis:yAxes, series:series,
  legend:[
    {data:scoreBands, left:2266, top:1484, orient:'horizontal', icon:'rect', itemWidth:22, itemHeight:22, itemGap:30,
     selectedMode:false, textStyle:{fontSize:47, fontFamily:FS, color:INK}},
    {data:rocNames, left:892, top:2531, orient:'vertical', icon:'rect', itemWidth:40, itemHeight:3, itemGap:10,
     selectedMode:false, textStyle:{fontSize:48, fontFamily:FC, color:INK, lineHeight:48}}
  ],
  graphic:{elements:G}
};
const chart = echarts.init(document.getElementById('chart'), null, {renderer:'canvas', width:3150, height:3202});
chart.setOption(option);

// ---- beeswarm offsets via the library's own scales ----
function swarm(vals, pxY, d){
  const order=vals.map((v,i)=>i).sort((a,b)=>vals[a]-vals[b]);
  const placed=[], off=new Array(vals.length);
  order.forEach(i=>{
    const y=vals[i]*pxY, forb=[];
    placed.forEach(p=>{ const dy=Math.abs(p.y-y); if (dy<d){ const dx=Math.sqrt(d*d-dy*dy); forb.push([p.x-dx,p.x+dx]); } });
    const cands=[0]; forb.forEach(f=>cands.push(f[0],f[1]));
    cands.sort((a,b)=>(Math.abs(a)-Math.abs(b))||(a-b));
    let x=0;
    for (const c of cands){ if (forb.every(f=>c<=f[0]+1e-6||c>=f[1]-1e-6)){ x=c; break; } }
    placed.push({x:x,y:y}); off[i]=x;
  });
  return off;
}
const upd=[];
panelsA.forEach((p,k)=>{
  const a=chart.convertToPixel({gridIndex:p.gi},[1,0]), b=chart.convertToPixel({gridIndex:p.gi},[2,1]);
  const pxX=b[0]-a[0], pxY=a[1]-b[1];
  p.vals.forEach((vals,g)=>{
    const off=swarm(vals,pxY,21.5);
    upd.push({id:'sw'+k+'_'+g, data:vals.map((v,i)=>[g+1+off[i]/pxX, v])});
  });
});
chart.setOption({series:upd});
</script>
</body>
</html>
